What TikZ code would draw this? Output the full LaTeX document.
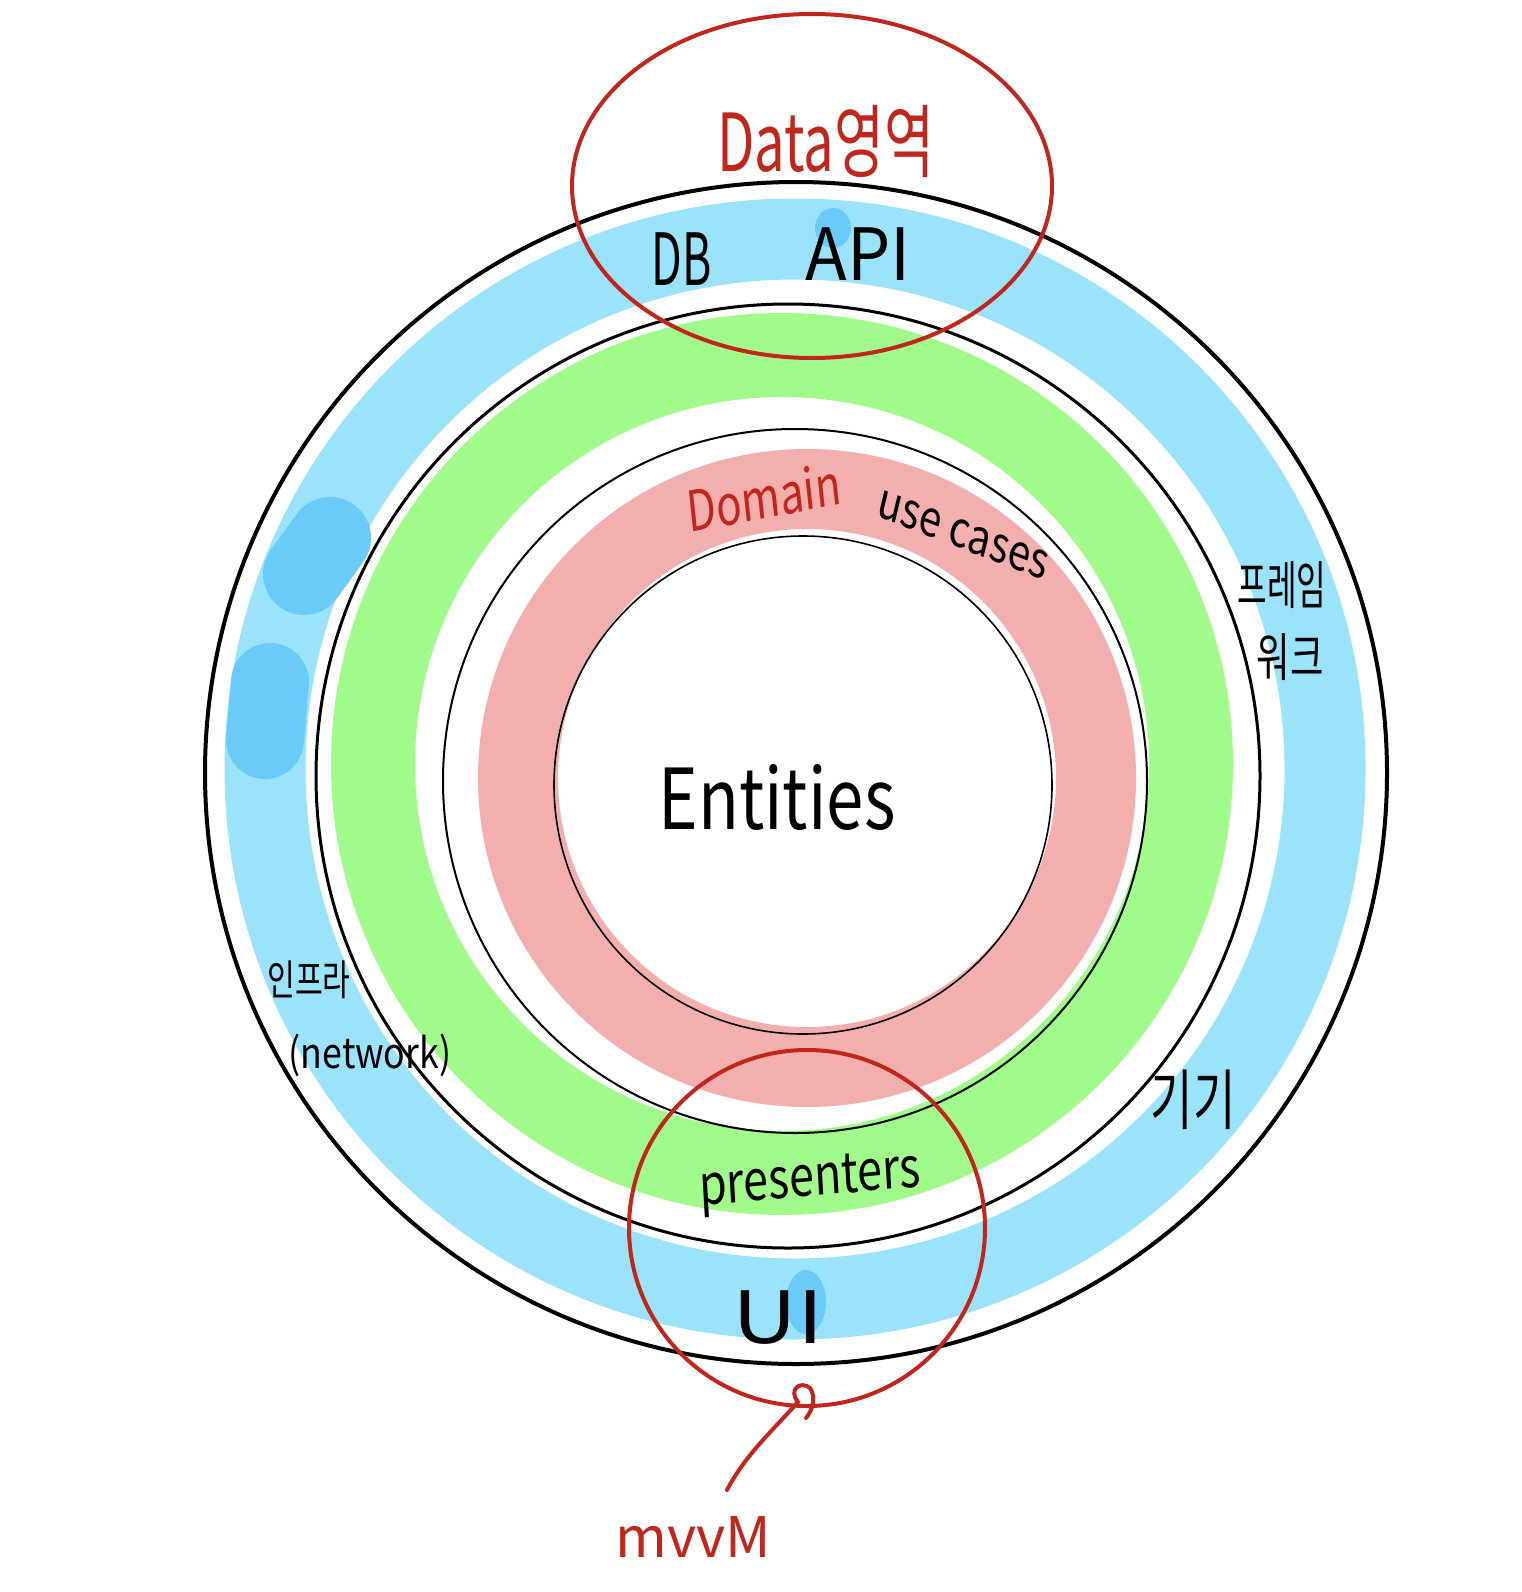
\documentclass[tikz,border=0pt]{standalone}
\usepackage{fontspec}
\newfontfamily\kr{Noto Sans CJK KR}
\definecolor{ringblue}{HTML}{9BE3FA}
\definecolor{blobblue}{HTML}{6BCBF8}
\definecolor{ringgreen}{HTML}{A1FB8A}
\definecolor{ringpink}{HTML}{F3AFAD}
\definecolor{penred}{HTML}{C1261C}
\tikzset{
  hand/.style={font=\kr\fontsize{#1}{#1}\selectfont, inner sep=0pt, transform shape},
  band/.style={line width=#1},
  redpen/.style={draw=penred, line width=4pt, line cap=round},
}
\begin{document}
\begin{tikzpicture}[x=1pt,y=-1pt]
\useasboundingbox[fill=white] (0,0) rectangle (1522,1592);
% coloured bands
\draw[ringblue, band=81pt] (795,769) circle[radius=530];
\draw[blobblue, band=82pt, line cap=round] (330,538) -- (304,574);
\draw[blobblue, band=78pt, line cap=round] (270,682) -- (265,740);
\fill[blobblue] (806,1302) ellipse[x radius=20, y radius=32];
\fill[blobblue] (833,228) ellipse[x radius=18, y radius=20];
\draw[ringgreen, band=84pt] (782,764) circle[radius=409];
\draw[ringpink, band=80pt] (807,778) circle[radius=289];
% black rings
\draw[line width=4pt] (796,773) circle[radius=591];
\draw[line width=3pt] (788,776) circle[radius=472];
\draw[line width=2pt] (795,781) circle[radius=352];
\draw[line width=1.6pt] (803,785) circle[radius=249];
% red marks
\draw[redpen] (812,186) ellipse[x radius=240, y radius=172];
\draw[redpen] (807,1228) circle[radius=178];
% texts
\node[hand=80, text=penred, xscale=0.68] (data) at (826,142) {Data영역};
\node[hand=72, xscale=0.62] (db) at (682,259) {DB};
\node[hand=72, xscale=0.95] (api) at (858,254) {API};
\node[hand=56, text=penred, xscale=0.75, rotate=8] (domain) at (764,497) {Domain};
\node[hand=50, xscale=0.8, rotate=-17] (usecases) at (963,535) {use cases};
\node[hand=52, xscale=0.62] (fw1) at (1282,585) {프레임};
\node[hand=52, xscale=0.7] (fw2) at (1290,657) {워크};
\node[hand=84, xscale=0.8] (entities) at (777,797) {Entities};
\node[hand=42, xscale=0.72] (infra) at (309,980) {인프라};
\node[hand=42, xscale=0.85] (network) at (370,1055) {(network)};
\node[hand=66, xscale=0.7] (gigi) at (1193,1100) {기기};
\node[hand=56, xscale=0.8, rotate=4] (presenters) at (810,1183) {presenters};
\node[hand=72, xscale=1.25] (ui) at (778,1318) {UI};
\node[hand=56, text=penred] (mvvm) at (693,1537) {mvvM};
% arrow with hook
\coordinate (tail) at (727,1490);
\coordinate (tip) at (798,1402);
\draw[redpen] (tail) .. controls (745,1455) and (775,1428) .. (tip)
  .. controls (788,1390) and (800,1380) .. (810,1388)
  .. controls (816,1396) and (813,1410) .. (806,1418);
\end{tikzpicture}
\end{document}
